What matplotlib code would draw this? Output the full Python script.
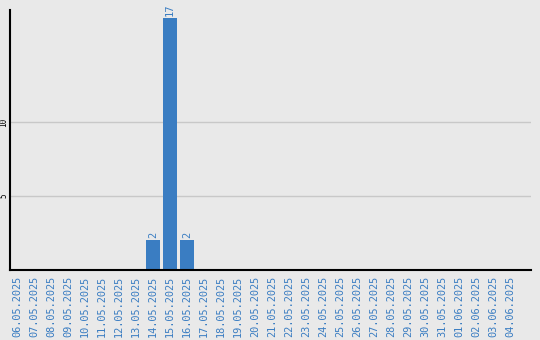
import matplotlib
matplotlib.use("Agg")
import matplotlib.pyplot as plt
from datetime import date, timedelta

start = date(2025, 5, 6)
dates = [(start + timedelta(days=i)).strftime("%d.%m.%Y") for i in range(30)]
counts = [0] * 30
counts[8] = 2   # 14.05.2025
counts[9] = 17  # 15.05.2025
counts[10] = 2  # 16.05.2025
y_ticks = [5, 10]

bg = "#e9e9e9"
blue = "#3a7dc2"

fig = plt.figure(figsize=(5.4, 3.4), dpi=100, facecolor=bg)
ax = fig.add_axes([10 / 540, 1 - 270 / 340, 521 / 540, 260 / 340], facecolor=bg)

x = list(range(len(dates)))
ax.bar(x, counts, width=0.82, color=blue, zorder=2)
for xi, v in zip(x, counts):
    if v > 0:
        ax.text(xi, v + 0.15, str(v), rotation=90, ha="center", va="bottom",
                color=blue, fontsize=7.5, family="DejaVu Sans Mono")

ax.set_xlim(-0.41, 30.24)
ax.set_ylim(0, 17.57)
ax.set_yticks(y_ticks)
ax.set_yticklabels([str(t) for t in y_ticks], rotation=90, va="center",
                   fontsize=5.5, family="DejaVu Sans Mono")
ax.set_xticks(x)
ax.set_xticklabels(dates, rotation=90, color=blue, fontsize=7.4,
                   family="DejaVu Sans Mono")
ax.tick_params(axis="both", length=0)
ax.tick_params(axis="y", pad=1)
ax.tick_params(axis="x", pad=4)
ax.grid(axis="y", color="#c8c8c8", linewidth=1, zorder=1)
for side in ["top", "right"]:
    ax.spines[side].set_visible(False)
for side in ["left", "bottom"]:
    ax.spines[side].set_color("black")
    ax.spines[side].set_linewidth(1.5)

fig.savefig("out.png", dpi=100, facecolor=bg)
